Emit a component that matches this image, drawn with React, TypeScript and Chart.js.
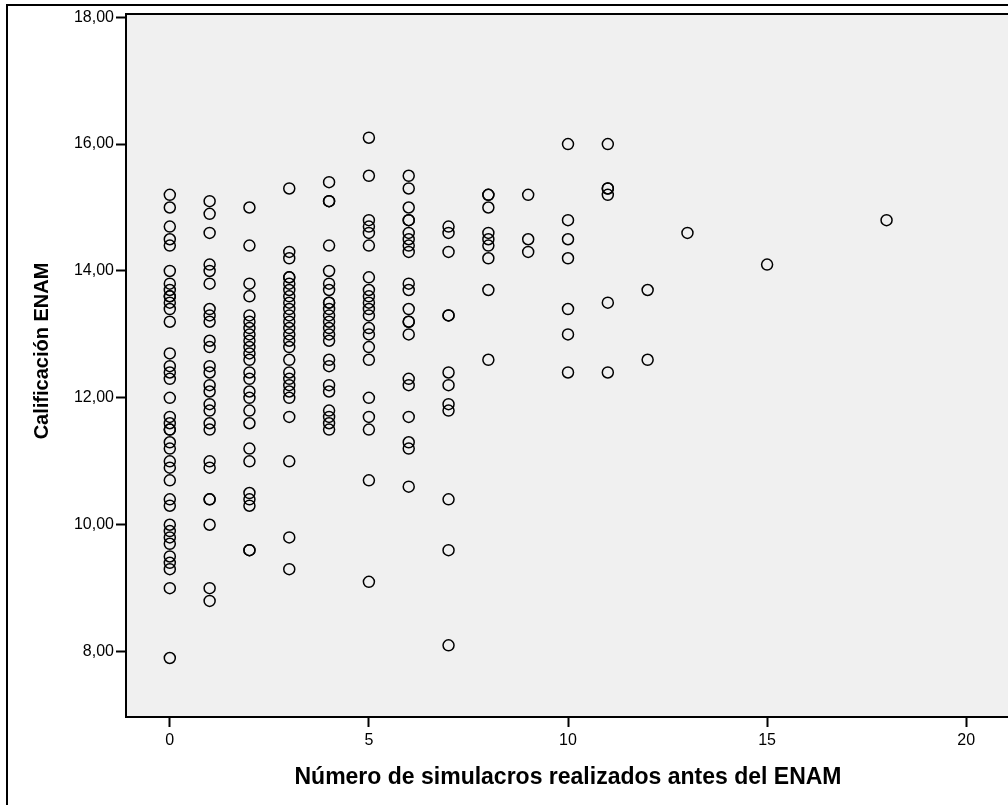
import React, { useEffect, useRef } from "react";
import { Chart, registerables } from "chart.js";

Chart.register(...registerables);

// Number of simulations taken before ENAM (x) and ENAM grade (y)
const simulacros = [0, 1, 2, 3, 4, 5, 6, 7, 8, 9, 10, 11, 12, 13, 15, 18];

const scores0 = [15.2, 15.0, 14.7, 14.5, 14.4, 14.0, 13.8, 13.7, 13.6, 13.6, 13.5, 13.4, 13.2, 12.7, 12.5, 12.4, 12.3, 12.0, 11.7, 11.6, 11.5, 11.5, 11.3, 11.2, 11.0, 10.9, 10.7, 10.4, 10.3, 10.0, 9.9, 9.8, 9.7, 9.5, 9.4, 9.3, 9.0, 7.9];
const scores1 = [15.1, 14.9, 14.6, 14.1, 14.0, 13.8, 13.4, 13.3, 13.2, 12.9, 12.8, 12.5, 12.4, 12.2, 12.1, 11.9, 11.8, 11.6, 11.5, 11.0, 10.9, 10.4, 10.4, 10.0, 9.0, 8.8];
const scores2 = [15.0, 14.4, 13.8, 13.6, 13.3, 13.2, 13.1, 13.0, 12.9, 12.8, 12.7, 12.6, 12.4, 12.3, 12.1, 12.0, 11.8, 11.6, 11.2, 11.0, 10.5, 10.4, 10.3, 9.6, 9.6];
const scores3 = [15.3, 14.3, 14.2, 13.9, 13.9, 13.8, 13.7, 13.6, 13.5, 13.4, 13.3, 13.2, 13.1, 13.0, 12.9, 12.8, 12.6, 12.4, 12.3, 12.2, 12.1, 12.0, 11.7, 11.0, 9.8, 9.3];
const scores4 = [15.4, 15.1, 15.1, 14.4, 14.0, 13.8, 13.7, 13.5, 13.5, 13.4, 13.3, 13.2, 13.1, 13.0, 12.9, 12.6, 12.5, 12.2, 12.1, 11.8, 11.7, 11.6, 11.5];
const scores5 = [16.1, 15.5, 14.8, 14.7, 14.6, 14.4, 13.9, 13.7, 13.6, 13.5, 13.4, 13.3, 13.1, 13.0, 12.8, 12.6, 12.0, 11.7, 11.5, 10.7, 9.1];
const scores6 = [15.5, 15.3, 15.0, 14.8, 14.8, 14.6, 14.5, 14.4, 14.3, 13.8, 13.7, 13.4, 13.2, 13.2, 13.0, 12.3, 12.2, 11.7, 11.3, 11.2, 10.6];
const scores7 = [14.7, 14.6, 14.3, 13.3, 13.3, 12.4, 12.2, 11.9, 11.8, 10.4, 9.6, 8.1];
const scores8 = [15.2, 15.2, 15.0, 14.6, 14.5, 14.4, 14.2, 13.7, 12.6];
const scores9 = [15.2, 14.5, 14.3];
const scores10 = [16.0, 14.8, 14.5, 14.2, 13.4, 13.0, 12.4];
const scores11 = [16.0, 15.3, 15.3, 15.2, 13.5, 12.4];
const scores12 = [13.7, 12.6];
const scores13 = [14.6];
const scores15 = [14.1];
const scores18 = [14.8];

const scoresBySimulacros = [
  scores0, scores1, scores2, scores3, scores4, scores5, scores6, scores7,
  scores8, scores9, scores10, scores11, scores12, scores13, scores15, scores18,
];

const xTicks = [0, 5, 10, 15, 20];
const yTicks = [8, 10, 12, 14, 16, 18];

const xTitle = "Número de simulacros realizados antes del ENAM";
const yTitle = "Calificación ENAM";

const FONT = "'Liberation Sans', Arial, Helvetica, sans-serif";

const framePlugin = {
  id: "spssFrame",
  beforeDraw(chart: any) {
    const { ctx, chartArea: a } = chart;
    ctx.save();
    ctx.fillStyle = "#ffffff";
    ctx.fillRect(0, 0, chart.width, chart.height);
    ctx.fillStyle = "#f0f0f0";
    ctx.fillRect(a.left, a.top, a.right - a.left, a.bottom - a.top);
    ctx.strokeStyle = "#000000";
    ctx.lineWidth = 2;
    ctx.strokeRect(7, 5, chart.width + 20, chart.height + 20);
    ctx.restore();
  },
  afterDraw(chart: any) {
    const { ctx, chartArea: a } = chart;
    ctx.save();
    ctx.strokeStyle = "#000000";
    ctx.lineWidth = 2;
    ctx.strokeRect(a.left, a.top, a.right - a.left, a.bottom - a.top);
    // axis titles
    ctx.fillStyle = "#000000";
    ctx.textAlign = "center";
    ctx.textBaseline = "middle";
    ctx.font = `bold 23px ${FONT}`;
    ctx.fillText(xTitle, (a.left + a.right) / 2, 778);
    ctx.translate(42, 351);
    ctx.rotate(-Math.PI / 2);
    ctx.font = `bold 20px ${FONT}`;
    ctx.fillText(yTitle, 0, 0);
    ctx.restore();
  },
};

export default function App() {
  const canvasRef = useRef<HTMLCanvasElement | null>(null);

  useEffect(() => {
    const canvas = canvasRef.current;
    if (!canvas) return;
    const points: { x: number; y: number }[] = [];
    simulacros.forEach((s, i) => {
      scoresBySimulacros[i].forEach((v) => points.push({ x: s, y: v }));
    });

    const chart = new Chart(canvas, {
      type: "scatter",
      data: {
        datasets: [
          {
            data: points,
            pointStyle: "circle",
            pointRadius: 5.5,
            pointHoverRadius: 5.5,
            pointBorderWidth: 1.5,
            borderColor: "#000000",
            backgroundColor: "rgba(0,0,0,0)",
            pointBackgroundColor: "rgba(0,0,0,0)",
          },
        ],
      },
      options: {
        responsive: false,
        animation: false,
        events: [],
        layout: { padding: { left: 0, top: 14, right: 10, bottom: 0 } },
        plugins: {
          legend: { display: false },
          tooltip: { enabled: false },
        },
        scales: {
          x: {
            type: "linear",
            min: -1.1,
            max: 21.1,
            afterBuildTicks: (scale: any) => {
              scale.ticks = xTicks.map((v) => ({ value: v }));
            },
            afterFit: (scale: any) => {
              scale.height = 88;
            },
            grid: {
              display: true,
              drawOnChartArea: false,
              drawTicks: true,
              tickLength: 10,
              tickWidth: 2,
              tickColor: "#000000",
            },
            border: { display: true, color: "#000000", width: 2 },
            ticks: {
              color: "#000000",
              padding: 4,
              font: { family: FONT, size: 16 },
              callback: (v: any) => String(v),
            },
            title: { display: false },
          },
          y: {
            type: "linear",
            min: 6.97,
            max: 18.05,
            afterBuildTicks: (scale: any) => {
              scale.ticks = yTicks.map((v) => ({ value: v }));
            },
            afterFit: (scale: any) => {
              scale.width = 126;
            },
            grid: {
              display: true,
              drawOnChartArea: false,
              drawTicks: true,
              tickLength: 10,
              tickWidth: 2,
              tickColor: "#000000",
            },
            border: { display: true, color: "#000000", width: 2 },
            ticks: {
              color: "#000000",
              padding: 2,
              font: { family: FONT, size: 16 },
              callback: (v: any) => Number(v).toFixed(2).replace(".", ","),
            },
            title: { display: false },
          },
        },
      },
      plugins: [framePlugin],
    });
    return () => chart.destroy();
  }, []);

  return (
    <div
      style={{
        position: "fixed",
        left: 0,
        top: 0,
        width: 1008,
        height: 805,
        overflow: "hidden",
        background: "#ffffff",
      }}
    >
      <canvas
        ref={canvasRef}
        width={1020}
        height={805}
        style={{ display: "block", width: 1020, height: 805 }}
      />
    </div>
  );
}
